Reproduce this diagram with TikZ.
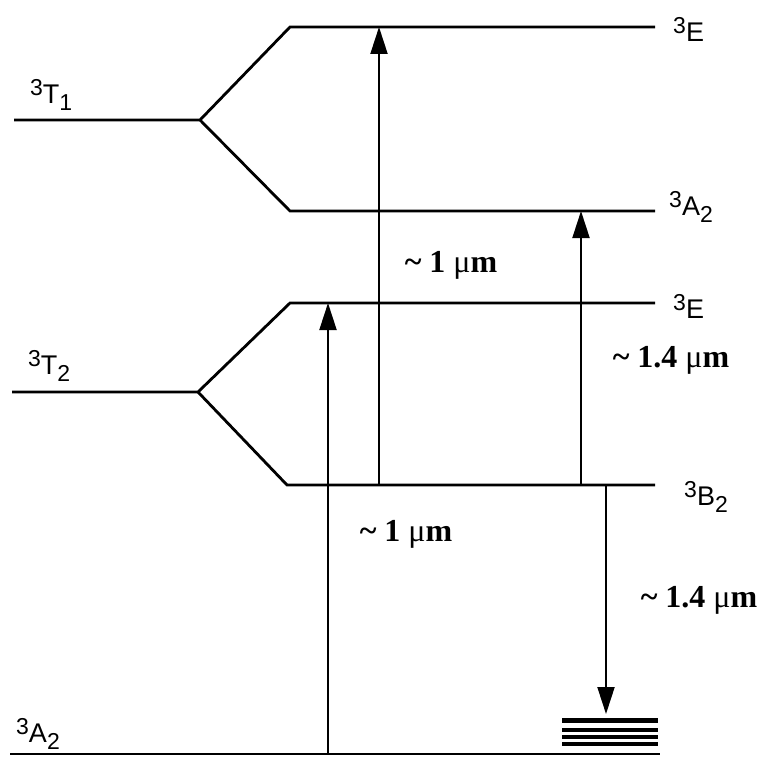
\documentclass[tikz,border=0pt]{standalone}
\usepackage{fontspec}
\setmainfont{Liberation Serif}
\newfontfamily\levelfont{Liberation Sans}
\usetikzlibrary{arrows.meta}
\tikzset{
    nivel/.style={line width=2.8pt},
    trans/.style={line width=2pt,-{Triangle[width=17pt,length=27pt]}},
    etiq/.style={font=\levelfont\fontsize{27}{27}\selectfont,anchor=base west,inner sep=0pt},
    onda/.style={font=\bfseries\fontsize{32}{32}\selectfont,inner sep=0pt},
}
\newcommand{\term}[2]{\raisebox{8pt}{\fontsize{23}{23}\selectfont 3}#1\raisebox{-7pt}{\fontsize{23}{23}\selectfont #2}}
\begin{document}
\begin{tikzpicture}[x=1pt,y=-1pt]
    \useasboundingbox (0,0) rectangle (773,757);
    % Niveles del estado 3T1
    \coordinate (t1a) at (14,120);
    \coordinate (t1b) at (200,120);
    \coordinate (e1a) at (290,27);
    \coordinate (e1b) at (655,27);
    \coordinate (a2a) at (290,211);
    \coordinate (a2b) at (655,211);
    \draw[nivel] (t1a) -- (t1b) -- (e1a) -- (e1b);
    \draw[nivel] (t1b) -- (a2a) -- (a2b);
    % Niveles del estado 3T2
    \coordinate (t2a) at (12,392);
    \coordinate (t2b) at (198,392);
    \coordinate (e2a) at (290,303);
    \coordinate (e2b) at (655,303);
    \coordinate (b2a) at (287,485);
    \coordinate (b2b) at (655,485);
    \draw[nivel] (t2a) -- (t2b) -- (e2a) -- (e2b);
    \draw[nivel] (t2b) -- (b2a) -- (b2b);
    % Estado fundamental 3A2
    \coordinate (g0a) at (10,754);
    \coordinate (g0b) at (660,754);
    \draw[nivel] (g0a) -- (g0b);
    % Etiquetas de los niveles
    \node[etiq] (lt1) at (30,104) {\term{T}{1}};
    \node[etiq] (lt2) at (28,374) {\term{T}{2}};
    \node[etiq] (lg0) at (16,742) {\term{A}{2}};
    \node[etiq] (le1) at (673,42) {\term{E}{}};
    \node[etiq] (la2) at (669,215) {\term{A}{2}};
    \node[etiq] (le2) at (673,318) {\term{E}{}};
    \node[etiq] (lb2) at (684,505) {\term{B}{2}};
    % Transiciones
    \coordinate (x1) at (328,0);
    \coordinate (x2) at (379,0);
    \coordinate (x3) at (581,0);
    \coordinate (x4) at (606,0);
    \coordinate (fin) at (606,714);
    \draw[trans] (x1 |- g0a) -- (x1 |- e2a);
    \draw[trans] (x2 |- b2a) -- (x2 |- e1a);
    \draw[trans] (x3 |- b2a) -- (x3 |- a2a);
    \draw[trans] (x4 |- b2a) -- (fin);
    % Subniveles del fundamental
    \draw[line width=5pt] (562,720) -- (658,720);
    \foreach \y in {730,737,744} {
        \draw[line width=3.4pt] (562,\y) -- (658,\y);
    }
    % Longitudes de onda
    \node[onda] (w1) at (451,265) {\textasciitilde{} 1 {\mdseries μ}m};
    \node[onda] (w2) at (671,360) {\textasciitilde{} 1.4 {\mdseries μ}m};
    \node[onda] (w3) at (406,534) {\textasciitilde{} 1 {\mdseries μ}m};
    \node[onda] (w4) at (699,600) {\textasciitilde{} 1.4 {\mdseries μ}m};
\end{tikzpicture}
\end{document}
